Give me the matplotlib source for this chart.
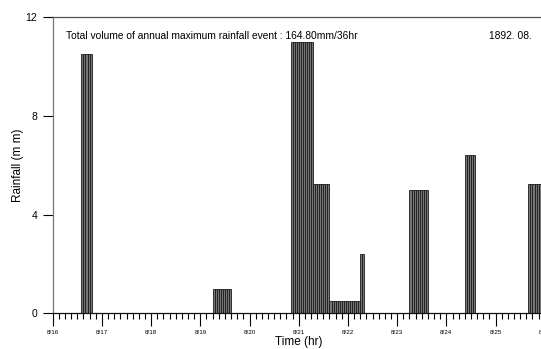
import matplotlib
matplotlib.use("Agg")
import matplotlib.pyplot as plt
from matplotlib.ticker import MultipleLocator

plt.rcParams['font.family'] = ['Liberation Sans', 'DejaVu Sans']

# hours since 8/16 00:00 (start of each hourly bar) and rainfall (mm)
hours = (list(range(14, 19)) + list(range(78, 87)) + list(range(116, 127)) +
         list(range(127, 135)) + list(range(135, 150)) + list(range(150, 152)) +
         list(range(174, 183)) + list(range(201, 206)) + list(range(232, 240)))
rain = ([10.5] * 5 + [1.0] * 9 + [11.0] * 11 + [5.25] * 8 + [0.5] * 15 +
        [2.4] * 2 + [5.0] * 9 + [6.4] * 5 + [5.25] * 8)

day_ticks = list(range(0, 241, 24))
day_labels = ["8/16", "8/17", "8/18", "8/19", "8/20", "8/21",
              "8/22", "8/23", "8/24", "8/25", "8/26"]
y_ticks = [0, 4, 8, 12]

title_text = "Total volume of annual maximum rainfall event : 164.80mm/36hr"
date_text = "1892. 08."

fig = plt.figure(figsize=(5.41, 3.49), dpi=100)
ax = fig.add_axes([0.0974, 0.1023, 0.9096, 0.849])

ax.bar(hours, rain, width=1.0, align='edge', facecolor='#767676',
       edgecolor='#1a1a1a', linewidth=0.6)

ax.set_xlim(0, 240)
ax.set_ylim(0, 12)
ax.set_xticks(day_ticks)
ax.set_xticklabels(day_labels, fontsize=4.5)
ax.xaxis.set_minor_locator(MultipleLocator(3))
ax.set_yticks(y_ticks)
ax.set_yticklabels([str(v) for v in y_ticks], fontsize=7.5)

ax.tick_params(axis='x', which='major', direction='out', length=9, width=0.8, pad=3)
ax.tick_params(axis='x', which='minor', direction='out', length=4.5, width=0.8)
ax.tick_params(axis='y', which='major', direction='out', length=7, width=0.8, pad=4)

ax.spines['right'].set_visible(False)
ax.spines['top'].set_color('#555555')
ax.spines['left'].set_color('#777777')
ax.spines['bottom'].set_color('#111111')
for s in ax.spines.values():
    s.set_linewidth(0.9)

ax.set_xlabel("Time (hr)", fontsize=8.5, labelpad=1)
ax.set_ylabel("Rainfall (m m)", fontsize=8.5, labelpad=1)

ax.text(6.3, 11.25, title_text, fontsize=7.4, va='center', ha='left')
ax.text(233.5, 11.25, date_text, fontsize=7.4, va='center', ha='right')

fig.savefig("out.png", dpi=100)
